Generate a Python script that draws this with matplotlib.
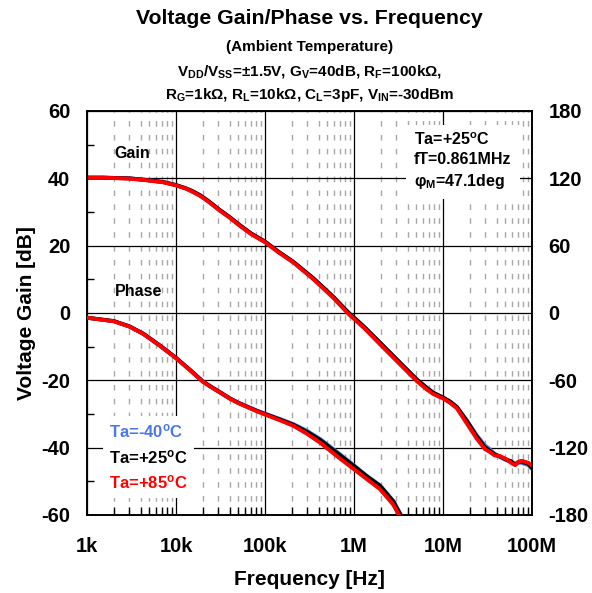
import numpy as np
import matplotlib
matplotlib.use("Agg")
import matplotlib.pyplot as plt
from matplotlib.ticker import FixedLocator, MultipleLocator, LogLocator, NullFormatter

plt.rcParams['font.family'] = ['Liberation Sans', 'DejaVu Sans']
plt.rcParams['font.weight'] = 'bold'
plt.rcParams['axes.unicode_minus'] = False
plt.rcParams['mathtext.fontset'] = 'custom'
plt.rcParams['mathtext.rm'] = 'Liberation Sans:bold'
plt.rcParams['mathtext.it'] = 'Liberation Sans:bold'
plt.rcParams['mathtext.bf'] = 'Liberation Sans:bold'
plt.rcParams['mathtext.sf'] = 'Liberation Sans:bold'

# gain data [dB]
gain_freq = [1e3, 1.5e3, 3e3, 4.7e3, 7.2e3, 1e4, 1.3e4, 1.5e4, 1.86e4, 2.3e4, 3.1e4, 4e4,
             5.2e4, 7e4, 1e5, 1.4e5, 2.08e5, 3.5e5, 5.85e5, 8.6e5, 1.3e6, 1.96e6, 3.3e6,
             5.06e6, 6.56e6, 7.8e6, 1e7, 1.2e7, 1.43e7, 1.85e7, 2.39e7, 2.95e7, 3.37e7,
             3.8e7, 4.36e7, 5.2e7, 5.8e7, 6.46e7, 7.0e7, 7.65e7, 9.1e7, 1e8]
gain_m40 = [40.2, 40.2, 40.0, 39.5, 38.9, 38.0, 37.0, 36.3, 35.0, 33.3, 30.6, 28.5,
            26.1, 23.6, 21.2, 18.3, 15.2, 10.3, 4.8, 0.2, -4.1, -8.8, -14.8, -19.7,
            -22.2, -23.7, -25.1, -26.3, -27.9, -31.9, -36.3, -39.3, -40.5, -41.8,
            -42.8, -43.8, -44.2, -44.8, -44.5, -44.5, -45.2, -46.3]
gain_25 = [40.2, 40.2, 40.0, 39.5, 38.9, 38.0, 37.0, 36.3, 35.0, 33.3, 30.6, 28.5,
           26.1, 23.6, 21.2, 18.3, 15.2, 10.3, 4.8, 0.2, -4.1, -8.8, -14.8, -19.7,
           -22.2, -23.7, -25.1, -26.3, -27.9, -32.0, -36.6, -39.8, -41.0, -42.0,
           -42.6, -43.6, -44.0, -45.0, -44.3, -44.2, -44.8, -46.0]
gain_85 = [40.2, 40.2, 39.9, 39.4, 38.8, 37.9, 36.9, 36.1, 34.8, 33.1, 30.4, 28.3,
           25.9, 23.4, 21.0, 18.1, 15.0, 10.0, 4.5, -0.2, -4.5, -9.3, -15.3, -20.2,
           -22.7, -24.1, -25.4, -26.7, -28.3, -32.8, -37.3, -40.4, -41.3, -42.3,
           -42.5, -43.5, -44.5, -45.2, -44.2, -43.9, -44.5, -45.4]

# phase data [deg]
phase_freq = [1e3, 2e3, 3e3, 4.3e3, 6.6e3, 1e4, 1.4e4, 2e4, 2.5e4, 3.1e4, 4e4, 5e4,
              6.5e4, 8e4, 1e5, 1.48e5, 2.08e5, 2.94e5, 4.15e5, 6.4e5, 1e6, 1.39e6,
              1.96e6, 2.77e6, 3.4e6, 4e6]
phase_m40 = [-4.2, -7.2, -11.8, -18.4, -28.9, -39.9, -49.8, -60.8, -65.8, -70.3, -75.8,
             -79.8, -83.7, -86.8, -89.6, -94.5, -99.0, -104.8, -112.2, -123.6, -135.8,
             -145.0, -153.5, -167.5, -180.5, -194]
phase_25 = [-4.2, -7.2, -12.0, -18.5, -29.0, -40.0, -50.0, -61.0, -66.0, -70.5, -76.0,
            -80.0, -84.0, -87.0, -90.0, -95.0, -99.6, -105.7, -113.0, -124.5, -136.4,
            -145.5, -154.0, -168.0, -181.0, -195]
phase_85 = [-4.2, -7.4, -12.2, -18.8, -29.3, -40.3, -50.3, -61.3, -66.3, -70.8, -76.3,
            -80.3, -84.3, -87.4, -90.5, -95.7, -100.5, -107.5, -115.5, -127.5, -139.3,
            -148.0, -157.0, -171.0, -184.0, -198]

temps = ['Ta=-40$^{o}$C', 'Ta=+25$^{o}$C', 'Ta=+85$^{o}$C']
colors = ['#4a78e8', 'black', 'red']
xtick_vals = [1e3, 1e4, 1e5, 1e6, 1e7, 1e8]
xtick_labels = ['1k', '10k', '100k', '1M', '10M', '100M']

fig = plt.figure(figsize=(5.92, 5.93), dpi=100)
ax = fig.add_axes([87/592, 1 - 515/593, 445/592, 404/593])
ax2 = ax.twinx()

lw = 2.8
gains = [gain_m40, gain_25, gain_85]
phases = [phase_m40, phase_25, phase_85]
lines = []
for g, c, t in zip(gains, colors, temps):
    l, = ax.plot(gain_freq, g, color=c, lw=lw, label=t, zorder=3)
    lines.append(l)
for p, c in zip(phases, colors):
    ax2.plot(phase_freq, p, color=c, lw=lw, zorder=3)

ax.set_xscale('log')
ax.set_xlim(1e3, 1e8)
ax.set_ylim(-60, 60)
ax2.set_ylim(-180, 180)
ax.yaxis.set_major_locator(FixedLocator(np.arange(-60, 61, 20)))
ax.yaxis.set_minor_locator(MultipleLocator(10))
ax2.yaxis.set_major_locator(FixedLocator(np.arange(-180, 181, 60)))
ax.set_xticks(xtick_vals)
ax.set_xticklabels(xtick_labels)
ax.xaxis.set_minor_locator(LogLocator(base=10, subs=np.arange(2, 10)))
ax.xaxis.set_minor_formatter(NullFormatter())

ax.grid(which='major', color='black', lw=0.9)
ax.grid(which='minor', axis='x', color='#a8a8a8', lw=1.0, linestyle=(0, (4, 6)))
ax.set_axisbelow(True)

ax.tick_params(axis='both', which='major', length=0, labelsize=14.5)
ax.tick_params(axis='x', which='major', pad=16)
ax.tick_params(axis='y', which='major', pad=12)
ax.tick_params(axis='y', which='minor', direction='in', length=5, width=1)
ax.tick_params(axis='x', which='minor', direction='in', length=6, width=1, bottom=True)
ax2.tick_params(axis='y', which='major', length=0, labelsize=14.5, pad=12)
for a in (ax, ax2):
    for s in a.spines.values():
        s.set_linewidth(1.2)

ax.set_xlabel('Frequency [Hz]', fontsize=15, fontweight='bold', labelpad=10)
ax.set_ylabel('Voltage Gain [dB]', fontsize=15, fontweight='bold', labelpad=4)

ax.text(2.05e3, 47.5, 'Gain', fontsize=11.5, fontweight='bold', va='center')
ax.text(2.05e3, 6.5, 'Phase', fontsize=11.5, fontweight='bold', va='center')

ax.text(0.735, 0.95,
        'Ta=+25$^{o}$C\nfT=0.861MHz\n$\\varphi_{M}$=47.1deg',
        transform=ax.transAxes, fontsize=11.5, fontweight='bold', va='top',
        linespacing=1.35, zorder=5,
        bbox=dict(facecolor='white', edgecolor='none', pad=6))

leg = ax.legend(handles=lines, loc='upper left', bbox_to_anchor=(0.035, 0.245),
                handlelength=0, handletextpad=0, labelcolor='linecolor',
                frameon=True, fancybox=False, framealpha=1, edgecolor='none',
                prop={'size': 12, 'weight': 'bold'}, labelspacing=0.45,
                borderpad=0.4, borderaxespad=0)

cx = (87 + 532) / 2 / 592
fig.text(cx, 1 - 19/593, 'Voltage Gain/Phase vs. Frequency', ha='center', va='center',
         fontsize=15.3, fontweight='bold')
fig.text(cx, 1 - 47/593, '(Ambient Temperature)', ha='center', va='center',
         fontsize=11, fontweight='bold')
fig.text(cx, 1 - 71/593, 'V$_{DD}$/V$_{SS}$=±1.5V, G$_{V}$=40dB, R$_{F}$=100kΩ,',
         ha='center', va='center', fontsize=11, fontweight='bold')
fig.text(cx, 1 - 95/593, 'R$_{G}$=1kΩ, R$_{L}$=10kΩ, C$_{L}$=3pF, V$_{IN}$=-30dBm',
         ha='center', va='center', fontsize=11, fontweight='bold')

fig.savefig('out.png', dpi=100)
